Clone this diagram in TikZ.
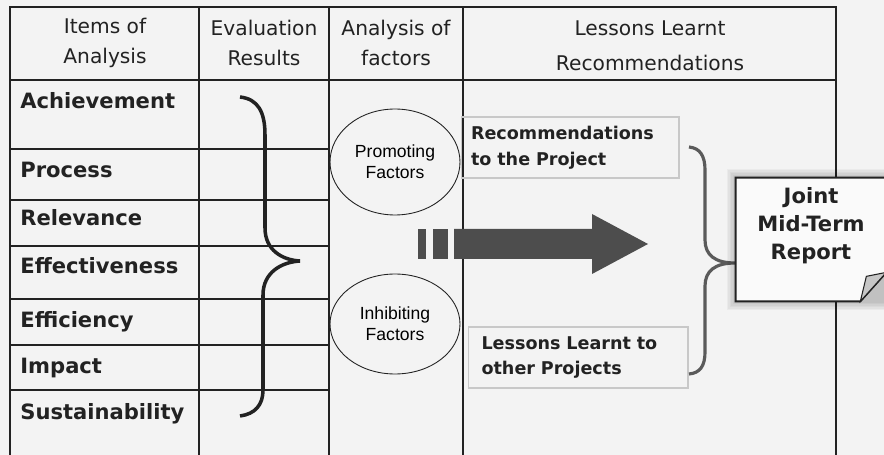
\documentclass[tikz,border=0pt]{standalone}
\usepackage{fontspec}
\setmainfont{DejaVu Sans}
\newfontfamily\arialfont{Liberation Sans}
\usetikzlibrary{shapes.geometric}

\definecolor{bgcolor}{HTML}{F3F3F3}
\definecolor{linecolor}{HTML}{222222}
\definecolor{arrowcolor}{HTML}{4D4D4D}
\definecolor{bracecolor}{HTML}{5A5A5A}
\definecolor{memoline}{HTML}{C8C8C8}

\tikzset{
    header/.style={align=center, text=linecolor, font=\fontsize{11.5}{17.5}\selectfont},
    item/.style={anchor=base west, inner sep=0pt, text=linecolor, font=\fontsize{12}{14}\selectfont\bfseries},
    factor/.style={ellipse, draw=linecolor, line width=0.5pt, minimum width=2.6cm, align=center, font=\arialfont\fontsize{10}{12}\selectfont},
    memo/.style={draw=memoline, line width=0.6pt, align=left, inner xsep=0.2cm, minimum height=1.22cm, text=linecolor, font=\fontsize{10}{14.5}\selectfont\bfseries},
    thickline/.style={draw=linecolor, line width=1.5pt},
    thinline/.style={draw=linecolor, line width=0.8pt},
}

\begin{document}
\begin{tikzpicture}[x=0.02cm, y=-0.02cm]
    % 背景
    \fill[bgcolor] (0,0) rectangle (884,455);
    \useasboundingbox (0,0) rectangle (884,455);

    % 表格线
    \draw[thinline] (10,80) -- (836,80);
    \foreach \x in {199,329,463} \draw[thinline] (\x,7) -- (\x,460);
    \foreach \y in {149,200,246,299,345,390} \draw[thinline] (10,\y) -- (329,\y);
    \draw[thickline] (10,460) -- (10,7) -- (836,7) -- (836,460);

    % 表头
    \node (items) [header] at (105,43) {Items of\\Analysis};
    \node (results) [header] at (264,43) {Evaluation\\Results};
    \node (factors) [header] at (396,43) {Analysis of\\factors};
    \node (lessons) [header, font=\fontsize{11.5}{20}\selectfont] at (650,46) {Lessons Learnt\\Recommendations};

    % 评价项目
    \node (achieve) [item] at (20,109) {Achievement};
    \node (process) [item] at (20,178) {Process};
    \node (relevance) [item] at (20,226) {Relevance};
    \node (effective) [item] at (20,274) {Effectiveness};
    \node (efficiency) [item] at (20,327) {Efficiency};
    \node (impact) [item] at (20,373) {Impact};
    \node (sustain) [item] at (20,419) {Sustainability};

    % 大括号
    \draw[linecolor, line width=2pt] (240,97) .. controls (258,99) and (265,112) .. (265,135)
        -- (265,228) .. controls (265,250) and (282,260) .. (300,261)
        .. controls (282,262) and (263,272) .. (263,295)
        -- (263,390) .. controls (263,405) and (255,414) .. (240,416);

    % 影响因素
    \node (promote) [factor, minimum height=2.12cm] at (395,162) {Promoting\\Factors};
    \node (inhibit) [factor, minimum height=2cm] at (395,324) {Inhibiting\\Factors};

    % 箭头
    \fill[arrowcolor] (418,229) rectangle (426,259);
    \fill[arrowcolor] (433,229) rectangle (448,259);
    \fill[arrowcolor] (454,229) -- (592,229) -- (592,214) -- (648,244) -- (592,274) -- (592,259) -- (454,259) -- cycle;

    % 建议与教训
    \node (recom) [memo, text width=3.96cm] at (570,147.5) {Recommendations\\to the Project};
    \node (lesson) [memo, text width=3.86cm, inner xsep=0.27cm] at (578,357.5) {Lessons Learnt to\\other Projects};

    % 右侧括号
    \draw[bracecolor, line width=1.8pt] (689,147) .. controls (700,148) and (705,156) .. (705,170)
        -- (705,240) .. controls (705,255) and (715,263) .. (735,263)
        .. controls (715,263) and (705,271) .. (705,286)
        -- (705,352) .. controls (705,366) and (700,373) .. (689,374);

    % 报告
    \node (report) [minimum width=3cm, minimum height=2.46cm, inner sep=0pt] at (811,239.5) {};
    \foreach \s in {1,...,6}
        \fill[black, opacity=0.035] ([xshift=-\s*0.03cm, yshift=\s*0.03cm]report.north west)
            rectangle ([xshift=\s*0.03cm, yshift=-\s*0.03cm]report.south east);
    \filldraw[fill=white!98!black, draw=linecolor, line width=1.1pt] (report.north west) -- (report.north east)
        -- ([yshift=0.58cm]report.south east) -- ([xshift=-0.52cm]report.south east) -- (report.south west) -- cycle;
    \filldraw[fill=black!22, draw=linecolor, line width=0.6pt] ([xshift=-0.52cm]report.south east)
        -- ([xshift=-0.4cm, yshift=0.5cm]report.south east) -- ([yshift=0.58cm]report.south east) -- cycle;
    \node (reporttext) [align=center, text=linecolor, font=\fontsize{12}{16}\selectfont\bfseries] at ([yshift=0.27cm]report.center) {Joint\\Mid-Term\\Report};
\end{tikzpicture}
\end{document}
